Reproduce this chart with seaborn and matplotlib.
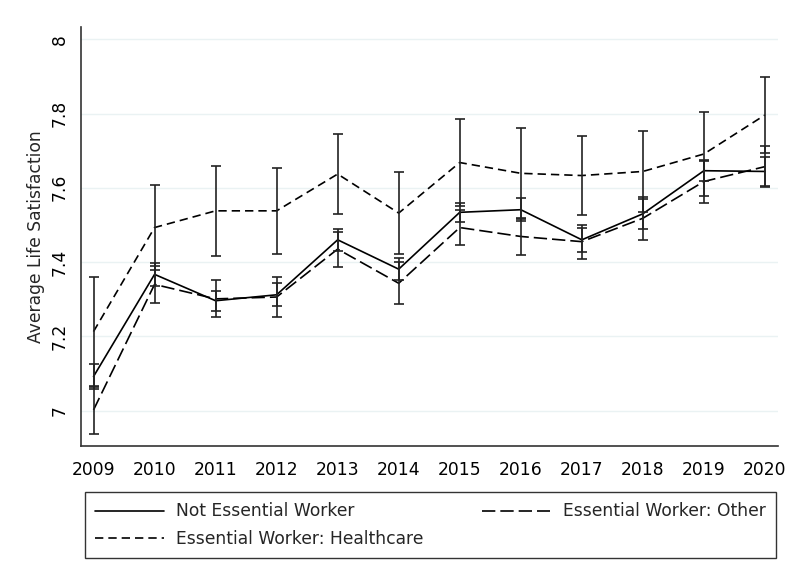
import seaborn as sns
import matplotlib.pyplot as plt
import pandas as pd

years = list(range(2009, 2021))
groups = ["Not Essential Worker", "Essential Worker: Other", "Essential Worker: Healthcare"]

# means
notEssential = [7.092, 7.367, 7.296, 7.312, 7.460, 7.381, 7.534, 7.541, 7.460, 7.530, 7.646, 7.644]
other = [7.002, 7.340, 7.301, 7.306, 7.435, 7.343, 7.493, 7.469, 7.455, 7.518, 7.617, 7.657]
healthcare = [7.213, 7.493, 7.538, 7.538, 7.637, 7.532, 7.668, 7.639, 7.633, 7.644, 7.691, 7.796]

# half widths of the confidence intervals
notEssentialCi = [0.034, 0.030, 0.027, 0.031, 0.029, 0.030, 0.025, 0.031, 0.032, 0.040, 0.027, 0.040]
otherCi = [0.064, 0.049, 0.050, 0.053, 0.047, 0.056, 0.047, 0.050, 0.046, 0.058, 0.057, 0.055]
healthcareCi = [0.148, 0.115, 0.121, 0.116, 0.107, 0.110, 0.117, 0.122, 0.106, 0.110, 0.112, 0.103]

df = pd.DataFrame({
    "year": years * 3,
    "mean": notEssential + other + healthcare,
    "ci": notEssentialCi + otherCi + healthcareCi,
    "group": [g for g in groups for _ in years],
})

sns.set_style("white")
plt.rcParams["font.family"] = ["DejaVu Sans"]

fig = plt.figure(figsize=(7.88, 5.82), dpi=100)
ax = fig.add_axes([0.1024, 0.2337, 0.8846, 0.72])

dashes = {
    "Not Essential Worker": "",
    "Essential Worker: Other": (8, 3),
    "Essential Worker: Healthcare": (5, 3),
}
sns.lineplot(data=df, x="year", y="mean", style="group", style_order=groups,
             dashes=dashes, color="black", linewidth=1.2, ax=ax, legend=False)

for g in groups:
    sub = df[df["group"] == g]
    ax.errorbar(sub["year"], sub["mean"], yerr=sub["ci"], fmt="none",
                ecolor="#222222", elinewidth=1.2, capsize=3.5, capthick=1.2)

# legend (column-major fill, so healthcare goes second to land on row 2)
h_ne = plt.Line2D([], [], color="black", lw=1.2, linestyle="-")
h_ot = plt.Line2D([], [], color="black", lw=1.2, dashes=(8, 3))
h_hc = plt.Line2D([], [], color="black", lw=1.2, dashes=(5, 3))
leg = fig.legend([h_ne, h_hc, h_ot], [groups[0], groups[2], groups[1]], ncol=2,
                 bbox_to_anchor=(0.108, 0.041), loc="lower left",
                 fontsize=12.3, frameon=True, fancybox=False, handlelength=4.0,
                 handletextpad=0.75, columnspacing=3.4,
                 borderaxespad=0, borderpad=0.6, labelspacing=0.55)
leg.get_frame().set_edgecolor("black")
leg.get_frame().set_linewidth(1.0)

ax.set_xlim(2008.79, 2020.21)
ax.set_ylim(6.905, 8.033)
ax.set_xticks(years)
ax.set_yticks([7, 7.2, 7.4, 7.6, 7.8, 8])
ax.set_yticklabels(["7", "7.2", "7.4", "7.6", "7.8", "8"], rotation=90, va="center")
ax.tick_params(axis="both", direction="out", length=5, width=1, labelsize=12.3, colors="black")
ax.tick_params(axis="x", pad=6)
ax.grid(axis="y", color="#eaf2f3", linewidth=1)
ax.set_xlabel("")
ax.set_ylabel("Average Life Satisfaction", fontsize=12.3)
sns.despine(ax=ax)
for s in ["left", "bottom"]:
    ax.spines[s].set_color("#333333")
    ax.spines[s].set_linewidth(1.2)

fig.savefig("out.png", dpi=100)
